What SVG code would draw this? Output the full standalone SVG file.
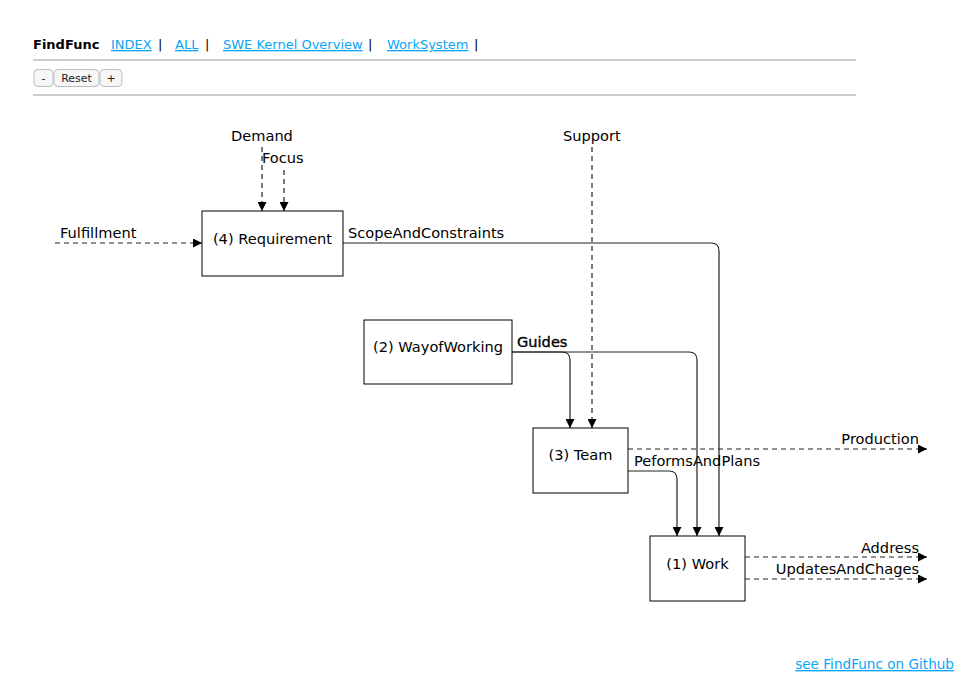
<svg xmlns="http://www.w3.org/2000/svg" width="963" height="677" viewBox="0 0 963 677">
<style>
text{font-family:"DejaVu Sans","Liberation Sans",sans-serif;fill:#000}
.h{font-size:13px}
.lnk{fill:#0aa5f5;text-decoration:underline}
.lbl{font-size:14.6px}
.node rect{fill:#fff;stroke:#000;stroke-width:1}
.c{fill:none;stroke:#222;stroke-width:1.2}
.d{stroke-dasharray:5,4}
.btn{fill:#f7f7f7;stroke:#bbb;stroke-width:1}
.bt{font-size:11px;text-anchor:middle;fill:#222}
</style>
<defs>
<marker id="ar" viewBox="0 0 10 10" refX="10" refY="5" markerWidth="9" markerHeight="9" markerUnits="userSpaceOnUse" orient="auto">
<path d="M0,0 L10,5 L0,10 z" fill="#000"/>
</marker>
</defs>
<rect width="963" height="677" fill="#fff"/>
<g id="header">
<text class="h" x="33" y="49" font-weight="bold">FindFunc</text>
<text class="h lnk" x="111" y="49">INDEX</text>
<text class="h" x="158" y="49">|</text>
<text class="h lnk" x="175" y="49">ALL</text>
<text class="h" x="205" y="49">|</text>
<text class="h lnk" x="223" y="49">SWE Kernel Overview</text>
<text class="h" x="368" y="49">|</text>
<text class="h lnk" x="387" y="49">WorkSystem</text>
<text class="h" x="474" y="49">|</text>
<line x1="33" y1="60" x2="856" y2="60" stroke="#999" stroke-width="1"/>
<rect class="btn" x="34" y="69.5" width="19" height="17" rx="4"/>
<text class="bt" x="43.5" y="82">-</text>
<rect class="btn" x="54" y="69.5" width="45" height="17" rx="4"/>
<text class="bt" x="76.5" y="82">Reset</text>
<rect class="btn" x="100" y="69.5" width="22" height="17" rx="4"/>
<text class="bt" x="111" y="82">+</text>
<line x1="33" y1="95" x2="856" y2="95" stroke="#999" stroke-width="1"/>
</g>
<g id="connectors">
<path class="c d" d="M262,147 V211" marker-end="url(#ar)"/>
<path class="c d" d="M284,170 V211" marker-end="url(#ar)"/>
<path class="c d" d="M55,243 H202" marker-end="url(#ar)"/>
<path class="c" d="M343,243 H711 Q719,243 719,251 V536" marker-end="url(#ar)"/>
<path class="c" d="M512,352 H562 Q570,352 570,360 V428" marker-end="url(#ar)"/>
<path class="c" d="M512,352 H689 Q697,352 697,360 V536" marker-end="url(#ar)"/>
<path class="c d" d="M592,147 V428" marker-end="url(#ar)"/>
<path class="c d" d="M628,449 H927" marker-end="url(#ar)"/>
<path class="c" d="M628,471 H669 Q677,471 677,479 V536" marker-end="url(#ar)"/>
<path class="c d" d="M745,557 H927" marker-end="url(#ar)"/>
<path class="c d" d="M745,579 H927" marker-end="url(#ar)"/>
<text class="lbl" x="231" y="141">Demand</text>
<text class="lbl" x="262" y="163">Focus</text>
<text class="lbl" x="60" y="238">Fulfillment</text>
<text class="lbl" x="348" y="238">ScopeAndConstraints</text>
<text class="lbl" x="517" y="347" stroke="#000" stroke-width="0.35">Guides</text>
<text class="lbl" x="563" y="141">Support</text>
<text class="lbl" x="919" y="444" text-anchor="end">Production</text>
<text class="lbl" x="634" y="466">PeformsAndPlans</text>
<text class="lbl" x="919" y="553" text-anchor="end">Address</text>
<text class="lbl" x="919" y="574" text-anchor="end">UpdatesAndChages</text>
</g>
<g id="n4" class="node">
<rect x="202" y="211" width="141" height="65"/>
<text class="lbl" x="272.5" y="244" text-anchor="middle">(4) Requirement</text>
</g>
<g id="n2" class="node">
<rect x="364" y="320" width="148" height="64"/>
<text class="lbl" x="438" y="352" text-anchor="middle">(2) WayofWorking</text>
</g>
<g id="n3" class="node">
<rect x="533" y="428" width="95" height="65"/>
<text class="lbl" x="580.5" y="460" text-anchor="middle">(3) Team</text>
</g>
<g id="n1" class="node">
<rect x="650" y="536" width="95" height="65"/>
<text class="lbl" x="697.5" y="569" text-anchor="middle">(1) Work</text>
</g>
<g id="footer">
<text class="lnk" x="954" y="669" text-anchor="end" font-size="13.6">see FindFunc on Github</text>
</g>
</svg>
